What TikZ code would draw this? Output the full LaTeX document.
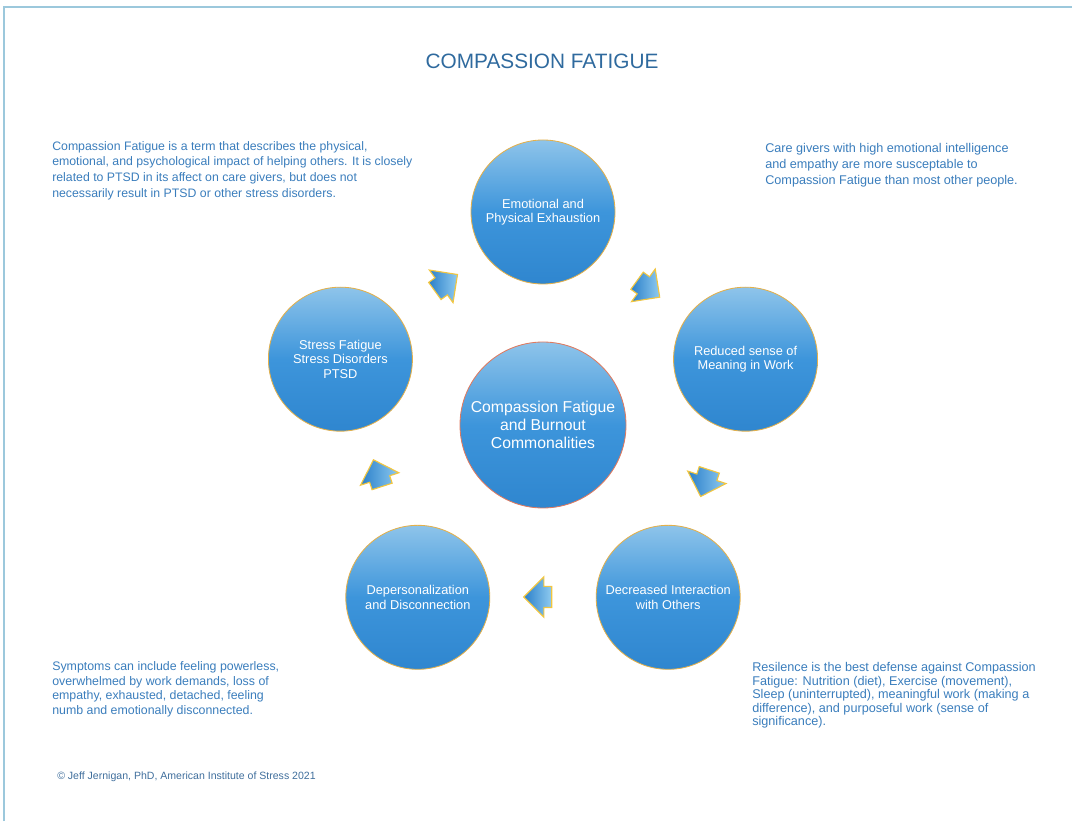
\documentclass[tikz,border=0pt]{standalone}
\usepackage{fontspec}
\setmainfont{Liberation Sans}
\usetikzlibrary{shapes.arrows,calc,positioning}

\definecolor{cFrame}   {HTML}{9CC8DC}
\definecolor{cTitle}   {HTML}{2F6A9E}
\definecolor{cText}    {HTML}{3A7DBC}
\definecolor{cCopy}    {HTML}{3F6E9C}
\definecolor{cBallTop} {HTML}{8EC4EA}
\definecolor{cBallMid} {HTML}{3D95DB}
\definecolor{cBallBot} {HTML}{2F86CF}
\definecolor{cRim}     {HTML}{E3B04B}
\definecolor{cHubRim}  {HTML}{E07A5F}
\definecolor{cArrDark} {HTML}{2A7FC9}
\definecolor{cArrLight}{HTML}{8FCBF0}
\definecolor{cArrRim}  {HTML}{F2C640}
\tikzset{
  ball/.style ={circle,draw=cRim,line width=0.6pt,top color=cBallTop,
                bottom color=cBallBot,middle color=cBallMid,text=white,
                align=center,inner sep=0pt,minimum size=36mm,
                font=\fontsize{9.1}{10.3}\selectfont},
  hub/.style  ={ball,draw=cHubRim,minimum size=41.5mm,
                font=\fontsize{11.2}{12.6}\selectfont},
  turn/.style ={single arrow,draw=cArrRim,line width=0.8pt,
                left color=cArrDark,right color=cArrLight,
                inner xsep=0pt,inner ysep=2.5mm,minimum height=7mm,
                single arrow head extend=2.4mm},
  note/.style ={anchor=north west,align=left,inner sep=0pt,text=cText},
}

\begin{document}
\begin{tikzpicture}[x=0.25mm, y=0.25mm]
\useasboundingbox (0,0) rectangle (1072,821);

% ===== page frame and heading ============================================
\draw[cFrame,line width=1.4pt] (4,0) -- (4,814) -- (1072,814);
\node[text=cTitle,font=\fontsize{14.8}{16}\selectfont] (title) at (542,760)
  {COMPASSION FATIGUE};

% ===== cycle =============================================================
\node[hub] (hub) at (543,396)
  {Compassion Fatigue\\ and Burnout\\ Commonalities};

\node[ball] (exhaust) at ($(hub)+(90:213)$)  {Emotional and\\ Physical Exhaustion};
\node[ball] (meaning) at ($(hub)+(18:213)$)  {Reduced sense of\\ Meaning in Work};
\node[ball] (contact) at ($(hub)+(-54:213)$) {Decreased Interaction\\ with Others};
\node[ball] (deperso) at ($(hub)+(234:213)$) {Depersonalization\\ and Disconnection};
\node[ball] (stress)  at ($(hub)+(162:213)$) {Stress Fatigue\\ Stress Disorders\\ PTSD};

% block arrows half way between the balls, turning clockwise
\foreach \ang [count=\i] in {54,-18,-90,-162,126}
  \node[turn,rotate=\ang-90] (turn\i) at ($(hub)+(\ang:172)$) {};

% ===== side notes ========================================================
\node[note,font=\fontsize{8.75}{11.1}\selectfont] (about) at (52,680)
  {Compassion Fatigue is a term that describes the physical,\\
   emotional, and psychological impact of helping others. It is closely\\
   related to PTSD in its affect on care givers, but does not\\
   necessarily result in PTSD or other stress disorders.};
\node[note,font=\fontsize{9}{11.4}\selectfont] (risk) at (765,678)
  {Care givers with high emotional intelligence\\
   and empathy are more susceptable to\\
   Compassion Fatigue than most other people.};
\node[note,font=\fontsize{8.8}{10.5}\selectfont] (signs) at (52,160)
  {Symptoms can include feeling powerless,\\
   overwhelmed by work demands, loss of\\
   empathy, exhausted, detached, feeling\\
   numb and emotionally disconnected.};
\node[note,font=\fontsize{9}{9.7}\selectfont] (defense) at (752,159)
  {Resilence is the best defense against Compassion\\
   Fatigue: Nutrition (diet), Exercise (movement),\\
   Sleep (uninterrupted), meaningful work (making a\\
   difference), and purposeful work (sense of\\
   significance).};

\node[anchor=west,inner sep=0pt,text=cCopy,font=\fontsize{7.5}{9}\selectfont]
  (credit) at (57,44) {\textcopyright{} Jeff Jernigan, PhD, American Institute of Stress 2021};
\end{tikzpicture}
\end{document}
